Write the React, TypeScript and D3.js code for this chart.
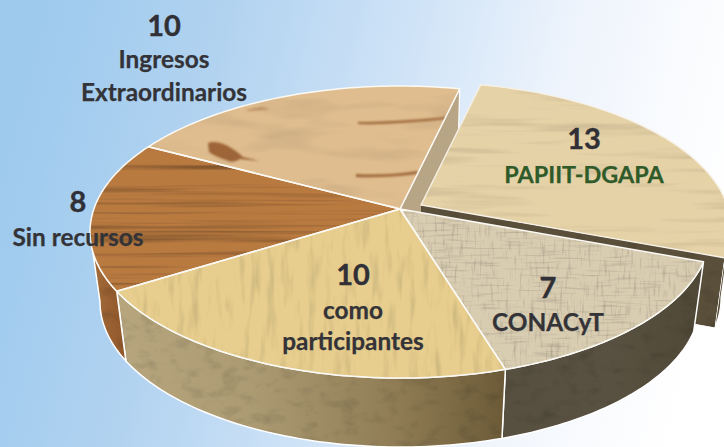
import React from "react";
import * as d3 from "d3";

const categories = ["PAPIIT-DGAPA", "CONACyT", "como participantes", "Sin recursos", "Ingresos Extraordinarios"];
const values = [13, 7, 10, 8, 10];
const topColors = ["#e6d2a7", "#d8ccb1", "#e7ce8e", "#b97a40", "#dfbd8f"];
const grainIds = ["g1", "g2", "g3", "g4", "g5"];
const wallIds = ["wA", "wB", "wC", "wD", "wE"];

const W = 724, H = 447;
const top = { cx: 400, cy: 232, rx: 310, ry: 146 };
const bottom = { cx: 400, cy: 302, rx: 300, ry: 145 };
const tilt = -0.1575; // perspective: centre of the disc sits above the ellipse centre
const shift = [21, -4];

type E = typeof top;
const project = (e: E, a: number, r = 1): [number, number] => {
  const u = r * Math.sin(a), v = -r * Math.cos(a);
  const d = 1 + tilt * v;
  return [e.cx + (e.rx * u * Math.sqrt(1 - tilt * tilt)) / d, e.cy + (e.ry * (v + tilt)) / d];
};
const rad = Math.PI / 180;
const pie = d3.pie<number>().sort(null).startAngle(13 * rad).endAngle(373 * rad);
const arcs = pie(values);
const line = d3.line();
const rim = (e: E, a0: number, a1: number) => d3.range(0, 61).map((i) => project(e, a0 + ((a1 - a0) * i) / 60));
const topPath = (a0: number, a1: number) => line([project(top, 0, 0), ...rim(top, a0, a1)]) + "Z";
// only the front of the wall is visible: it is bounded by the silhouette angles of the ellipses
const wallPath = (a0: number, a1: number) => {
  const s = Math.max(a0, 99 * rad), t = Math.min(a1, 261 * rad);
  return line([...rim(top, s, t), ...rim(bottom, s, t).reverse()]) + "Z";
};
const cutPath = (a: number) =>
  line([project(top, 0, 0), project(top, a), project(bottom, a), project(bottom, 0, 0)]) + "Z";

const Grain = ({ id, f, k, o, seed, k2 }: { id: string; f: string; k: number; o: number; seed: number; k2?: string }) => (
  <filter id={id} filterUnits="userSpaceOnUse" x="0" y="0" width={W + 60} height={H + 60} colorInterpolationFilters="sRGB">
    <feTurbulence type="fractalNoise" baseFrequency={f} numOctaves={3} seed={seed} result="n" />
    <feColorMatrix in="n" type="matrix" values={`${k} 0 0 0 ${o} ${k} 0 0 0 ${o} ${k} 0 0 0 ${o} 0 0 0 0 1`} result="g" />
    {k2 ? (
      <>
        <feTurbulence type="fractalNoise" baseFrequency={k2} numOctaves={2} seed={seed + 3} result="n2" />
        <feColorMatrix in="n2" type="matrix" values={`${k} 0 0 0 ${o} ${k} 0 0 0 ${o} ${k} 0 0 0 ${o} 0 0 0 0 1`} result="g2" />
        <feBlend in="g" in2="g2" mode="multiply" result="g" />
      </>
    ) : null}
    <feBlend in="SourceGraphic" in2="g" mode="multiply" result="b" />
    <feComposite in="b" in2="SourceGraphic" operator="in" />
  </filter>
);

const Wall = ({ id, stops }: { id: string; stops: [number, string][] }) => (
  <linearGradient id={id} gradientUnits="userSpaceOnUse" x1="0" y1="0" x2={W} y2="0">
    {stops.map(([o, c]) => (
      <stop key={o} offset={o} stopColor={c} />
    ))}
  </linearGradient>
);

const labelStyle = { fontFamily: "Lato, Carlito, sans-serif", fontWeight: 700, textAnchor: "middle" as const };
const Num = ({ x, y, t }: { x: number; y: number; t: string | number }) => (
  <text x={x} y={y} fontSize={29} fill="#303036" stroke="#303036" strokeWidth={0.4} style={labelStyle}>{t}</text>
);
const Lab = ({ x, y, t, c = "#333338", s = 24.4 }: { x: number; y: number; t: string; c?: string; s?: number }) => (
  <text x={x} y={y} fontSize={s} fill={c} stroke={c} strokeWidth={0.25} style={labelStyle}>{t}</text>
);

export default function App() {
  const [a, b, c, d, e] = arcs;
  return (
    <svg width={W} height={H} viewBox={`0 0 ${W} ${H}`} style={{ position: "fixed", left: 0, top: 0 }}>
      <defs>
        <linearGradient id="bg" x1="0" y1="0.42" x2="1" y2="0.58">
          <stop offset="0" stopColor="#9ecaee" />
          <stop offset="0.25" stopColor="#b2d3f0" />
          <stop offset="0.5" stopColor="#cfe3f7" />
          <stop offset="0.72" stopColor="#eef4fc" />
          <stop offset="0.9" stopColor="#fbfcfe" />
          <stop offset="1" stopColor="#ffffff" />
        </linearGradient>
        <Wall id="wA" stops={[[0.7, "#5f5540"], [1, "#564b36"]]} />
        <Wall id="wB" stops={[[0.7, "#575040"], [0.85, "#585040"], [1, "#4f4735"]]} />
        <Wall id="wC" stops={[[0.15, "#b7a67e"], [0.35, "#ab9a72"], [0.55, "#8f7c54"], [0.7, "#6c5a37"]]} />
        <Wall id="wD" stops={[[0.12, "#a66f3c"], [0.17, "#92592c"]]} />
        <Wall id="wE" stops={[[0, "#b8a585"], [1, "#b8a585"]]} />
        <Grain id="g1" f="0.006 0.09" k={0.35} o={0.83} seed={4} />
        <Grain id="g2" f="0.35 0.05" k={0.4} o={0.82} seed={8} k2="0.03 0.4" />
        <Grain id="g3" f="0.12 0.02" k={0.28} o={0.86} seed={12} />
        <Grain id="g4" f="0.003 0.16" k={0.85} o={0.58} seed={2} />
        <Grain id="g5" f="0.012 0.05" k={0.22} o={0.89} seed={5} />
        <Grain id="wg" f="0.05 0.08" k={0.3} o={0.85} seed={9} />
        <filter id="soft" x="-20%" y="-100%" width="140%" height="300%">
          <feGaussianBlur stdDeviation="0.8" />
        </filter>
        <clipPath id="ingresos">
          <path d={topPath(e.startAngle, e.endAngle)} />
        </clipPath>
      </defs>

      <rect width={W} height={H} fill="url(#bg)" />

      {/* back cut face of the remaining disc, partly hidden by the pulled-out slice */}
      <path d={cutPath(a.startAngle)} fill={`url(#${wallIds[4]})`} stroke="#fff" strokeWidth={1.2} />

      {/* pulled-out slice */}
      <g transform={`translate(${shift[0]},${shift[1]})`}>
        <path d={wallPath(a.startAngle, a.endAngle)} fill="url(#wA)" stroke="#fff" strokeWidth={1.2} />
        <path d={cutPath(a.endAngle)} fill="#5a4f3a" filter="url(#wg)" />
        <path d={topPath(a.startAngle, a.endAngle)} fill={topColors[0]} filter={`url(#${grainIds[0]})`} />
        <path d={topPath(a.startAngle, a.endAngle)} fill="none" stroke="#f6f1e6" strokeWidth={1.4} />
      </g>

      {/* outer walls of the disc */}
      {[b, c, d].map((s) => (
        <g key={s.index}>
          <path d={wallPath(s.startAngle, s.endAngle)} fill={`url(#${wallIds[s.index]})`} filter="url(#wg)" />
          <path d={wallPath(s.startAngle, s.endAngle)} fill="none" stroke="#fff" strokeWidth={1.5} />
        </g>
      ))}

      {/* top faces */}
      {[b, c, d, e].map((s) => (
        <path key={s.index} d={topPath(s.startAngle, s.endAngle)} fill={topColors[s.index]} filter={`url(#${grainIds[s.index]})`} />
      ))}

      {/* knots in the pale wood */}
      <g clipPath="url(#ingresos)" fill="#8c4f22" opacity={0.8}>
        <path d="M208 143 Q216 140 228 146 Q238 152 243 157 L260 161 L240 159 Q232 164 226 160 Q214 156 209 152 Z" filter="url(#soft)" />
        <path d="M358 122 Q395 122 446 117 L446 119 Q395 125 358 124 Z" filter="url(#soft)" />
        <path d="M356 174 Q385 176 418 171 L417 174 Q385 178 356 177 Z" filter="url(#soft)" />
        <path d="M245 110 L262 107 L270 109 L250 111 Z" opacity={0.5} filter="url(#soft)" />
      </g>

      {[b, c, d, e].map((s) => (
        <path key={s.index} d={topPath(s.startAngle, s.endAngle)} fill="none" stroke="#fbf9f4" strokeWidth={1.5} strokeLinejoin="round" />
      ))}

      <Num x={164} y={36} t={values[4]} />
      <Lab x={164} y={68} t="Ingresos" />
      <Lab x={164} y={101} t="Extraordinarios" />

      <Num x={78} y={212} t={values[3]} />
      <Lab x={78} y={246} t={categories[3]} />

      <Num x={584} y={149} t={values[0]} />
      <Lab x={584} y={183} t={categories[0]} c="#2f5a29" s={23.4} />

      <Num x={353} y={285} t={values[2]} />
      <Lab x={353} y={319} t="como" />
      <Lab x={353} y={350} t="participantes" />

      <Num x={548} y={298} t={values[1]} />
      <Lab x={548} y={331} t={categories[1]} />
    </svg>
  );
}
